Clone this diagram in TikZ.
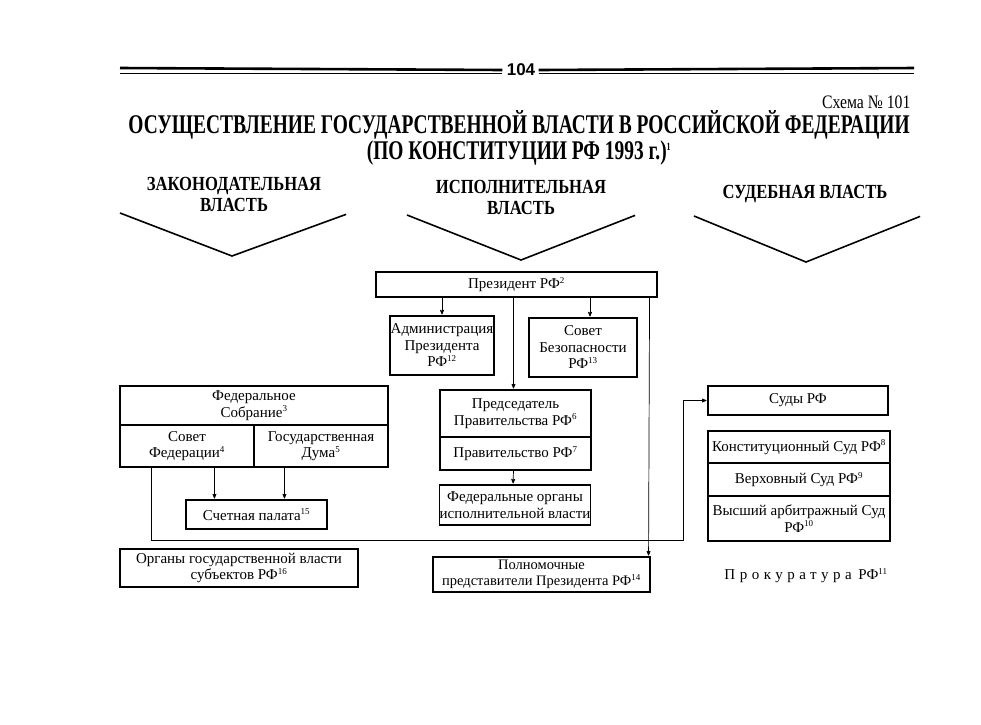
\documentclass[tikz,border=0pt]{standalone}
\usepackage{fontspec}
\setmainfont{Liberation Serif}
\newfontfamily\condfont[FakeStretch=0.83]{Liberation Serif}
\newfontfamily\titlefont[FakeStretch=0.72]{Liberation Serif}
\newfontfamily\numfont{Liberation Sans}
\newfontfamily\spacedfont[LetterSpace=30]{Liberation Serif}
\newcommand{\nt}[1]{\textsuperscript{\fontsize{9}{9}\selectfont#1}}
\usetikzlibrary{arrows,positioning}

\begin{document}
\begin{tikzpicture}[x=1pt,y=-1pt,>=stealth',shorten >=1pt,node distance=40pt,
  box/.style={draw,line width=1.1pt,inner sep=0pt,align=center,font=\fontsize{15}{16.5}\selectfont},
  head/.style={align=center,font=\condfont\bfseries\fontsize{20}{21}\selectfont},
  arr/.style={->,line width=0.7pt}]

\useasboundingbox (0,0) rectangle (981,724);

% page rule
\node[font=\numfont\bfseries\fontsize{17}{17}\selectfont] (page) at (521,70) {104};
\draw[line width=2.6pt] (120,68) -- (page.west);
\draw[line width=0.8pt] (120,73) -- (page.west |- 0,73);
\draw[line width=2.6pt] (page.east) -- (915,68);
\draw[line width=0.8pt] (page.east |- 0,73) -- (915,73);

\node[anchor=east,font=\condfont\fontsize{19}{19}\selectfont] (scheme) at (914,102) {Схема № 101};
\node[align=center,font=\titlefont\bfseries\fontsize{27}{23}\selectfont] (title) at (519,138)
  {ОСУЩЕСТВЛЕНИЕ ГОСУДАРСТВЕННОЙ ВЛАСТИ В РОССИЙСКОЙ ФЕДЕРАЦИИ\\(ПО КОНСТИТУЦИИ РФ 1993 г.)\textsuperscript{\fontsize{11}{11}\selectfont 1}};

% branches
\node[head] (leg)  at (234,194) {ЗАКОНОДАТЕЛЬНАЯ\\ВЛАСТЬ};
\node[head] (exe)  at (521,197) {ИСПОЛНИТЕЛЬНАЯ\\ВЛАСТЬ};
\node[head] (jud)  at (805,194) {СУДЕБНАЯ ВЛАСТЬ};
\draw[line width=1.6pt] (120,213) -- (232,256) -- (347,214);
\draw[line width=1.6pt] (407,215) -- (521,260) -- (636,215);
\draw[line width=1.6pt] (694,216) -- (806,262) -- (921,216);

% executive
\node[box,minimum width=281pt,minimum height=25pt] (pres) at (516.5,284.5) {Президент РФ\nt{2}};
\node[box,minimum width=104pt,minimum height=59pt] (adm) at (442,345.5) {Администрация\\Президента\\РФ\nt{12}};
\node[box,minimum width=108pt,minimum height=59pt] (sovbez) at (583,347.5) {Совет\\Безопасности\\РФ\nt{13}};
\node[box,minimum width=151pt,minimum height=47pt] (pred) at (515.5,413.5) {Председатель\\Правительства РФ\nt{6}};
\node[box,minimum width=151pt,minimum height=33pt] (prav) [below of=pred] {Правительство РФ\nt{7}};
\node[box,minimum width=150pt,minimum height=40pt] (fedorg) at (515,505) {Федеральные органы\\исполнительной власти};
\node[box,minimum width=217pt,minimum height=35pt,font=\fontsize{14.5}{15.5}\selectfont] (polnom) at (541.5,574.5)
  {Полномочные\\представители Президента РФ\nt{14}};

% legislative
\node[box,minimum width=268pt,minimum height=39pt] (fs) at (254,405.5) {Федеральное\\Собрание\nt{3}};
\node[box,minimum width=134pt,minimum height=42pt] (sf) at (187,446) {Совет\\Федерации\nt{4}};
\node[box,minimum width=134pt,minimum height=42pt] (duma) [right of=sf,node distance=134pt] {Государственная\\Дума\nt{5}};
\node[box,minimum width=141pt,minimum height=29pt] (schet) at (256.5,514.5) {Счетная палата\nt{15}};
\node[box,minimum width=238pt,minimum height=38pt] (subj) at (239,568) {Органы государственной власти\\субъектов РФ\nt{16}};

% judicial
\node[box,minimum width=180pt,minimum height=29pt] (sudy) at (798,400.5) {Суды РФ};
\node[box,minimum width=182pt,minimum height=32pt] (ks) at (799,447) {Конституционный Суд РФ\nt{8}};
\node[box,minimum width=182pt,minimum height=33pt] (vs) [below of=ks,node distance=32.5pt] {Верховный Суд РФ\nt{9}};
\node[box,minimum width=182pt,minimum height=45pt] (vas) [below of=vs,node distance=39pt] {Высший арбитражный Суд\\РФ\nt{10}};
\node[font=\fontsize{15}{16}\selectfont] (prok) at (806,576) {{\spacedfont Прокуратура}\hspace{3pt} РФ\nt{11}};

\coordinate (turn) at (683,540);

\draw[arr] (adm.north |- pres.south) -- (adm.north);
\draw[arr] ([xshift=7pt]sovbez.north |- pres.south) -- ([xshift=7pt]sovbez.north);
\draw[arr] ([xshift=-2pt]pred.north |- pres.south) -- ([xshift=-2pt]pred.north);
\draw[arr] ([xshift=-8pt]pres.south east) -- ([xshift=-2pt]polnom.north east);
\draw[arr] ([xshift=-2pt]prav.south) -- ([xshift=-2pt]fedorg.north);
\draw[arr] ([xshift=29pt]schet.north west |- sf.south) -- ([xshift=29pt]schet.north west);
\draw[arr] ([xshift=99pt]schet.north west |- sf.south) -- ([xshift=99pt]schet.north west);
\draw[arr] ([xshift=32pt]sf.south west) |- (turn) |- (sudy.west);

\end{tikzpicture}
\end{document}
